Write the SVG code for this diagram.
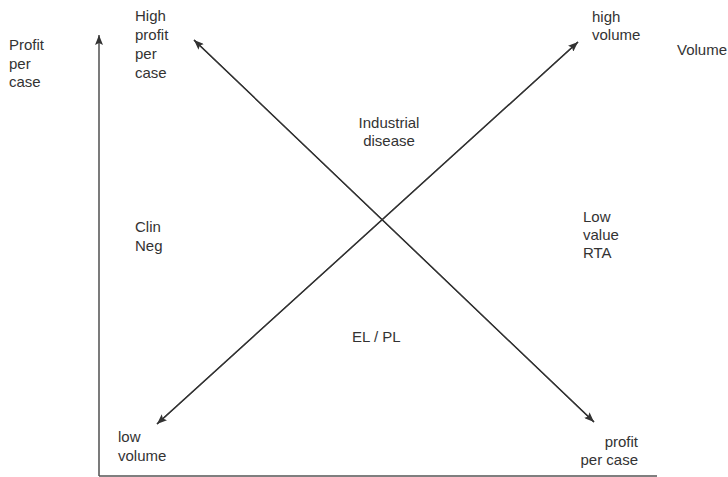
<svg xmlns="http://www.w3.org/2000/svg" width="728" height="477" viewBox="0 0 728 477">
<defs>
<style>
.t{font-family:"Liberation Sans",Arial,sans-serif;font-size:15px;fill:#333}
.ln{stroke:#333;stroke-width:1.3;fill:none}
</style>
<marker id="ah" viewBox="0 0 10 8" refX="10" refY="4" markerWidth="10" markerHeight="8" markerUnits="userSpaceOnUse" orient="auto">
<path d="M0,0 L10,4 L0,8 L2,4 z" fill="#333"/>
</marker>
</defs>
<rect width="728" height="477" fill="#fff"/>
<g id="connectors">
<line class="ln" x1="99" y1="476" x2="99" y2="35" marker-end="url(#ah)"/>
<line x1="99" y1="476" x2="657" y2="476" stroke="#555" stroke-width="1.3"/>
<line class="ln" x1="594" y1="422" x2="194" y2="40" marker-end="url(#ah)"/>
<line class="ln" x1="194" y1="40" x2="594" y2="422" marker-end="url(#ah)"/>
<line class="ln" x1="157" y1="424" x2="578" y2="42" marker-end="url(#ah)"/>
<line class="ln" x1="578" y1="42" x2="157" y2="424" marker-end="url(#ah)"/>
</g>
<g id="axis-y-label"><text class="t" x="9" y="50">Profit</text><text class="t" x="9" y="69">per</text><text class="t" x="9" y="87">case</text></g>
<g id="axis-x-label"><text class="t" x="677" y="55">Volume</text></g>
<g id="high-profit"><text class="t" x="135" y="21">High</text><text class="t" x="135" y="40">profit</text><text class="t" x="135" y="59">per</text><text class="t" x="135" y="78">case</text></g>
<g id="high-volume"><text class="t" x="592" y="22">high</text><text class="t" x="592" y="40">volume</text></g>
<g id="low-volume"><text class="t" x="118" y="442">low</text><text class="t" x="118" y="461">volume</text></g>
<g id="profit-per-case"><text class="t" x="638" y="447" text-anchor="end">profit</text><text class="t" x="638" y="465" text-anchor="end">per case</text></g>
<g id="industrial-disease"><text class="t" x="389" y="128" text-anchor="middle">Industrial</text><text class="t" x="389" y="146" text-anchor="middle">disease</text></g>
<g id="clin-neg"><text class="t" x="135" y="232">Clin</text><text class="t" x="135" y="251">Neg</text></g>
<g id="low-value-rta"><text class="t" x="583" y="222">Low</text><text class="t" x="583" y="240">value</text><text class="t" x="583" y="258">RTA</text></g>
<g id="el-pl"><text class="t" x="352" y="342">EL / PL</text></g>
</svg>
